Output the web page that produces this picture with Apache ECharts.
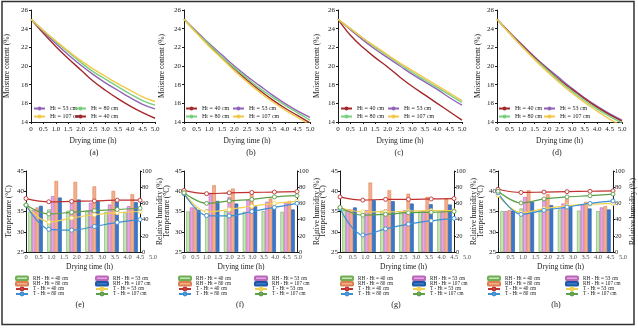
<!DOCTYPE html>
<html>
<head>
<meta charset="utf-8">
<script src="https://cdn.jsdelivr.net/npm/echarts@6/dist/echarts.min.js"></script>
<style>
  html, body { margin: 0; padding: 0; background: #fff; }
  #chart { width: 638px; height: 328px; }
</style>
</head>
<body>
<div id="chart"></div>
<script>
// ---- shared axes ----
const HOURS = [0, 0.5, 1, 1.5, 2, 2.5, 3, 3.5, 4, 4.5, 5];
const X_TICK_LABELS = ['0', '0.5', '1.0', '1.5', '2.0', '2.5', '3.0', '3.5', '4.0', '4.5', '5.0'];
const T_HOURS = [0, 1, 2, 3, 4, 5];
const RH_SLOTS = ['0', '1', '2', '3', '4', '5'];

// ---- moisture content (%) ----
const MC_A_40  = [25.0, 23.5, 22.1, 20.8, 19.6, 18.4, 17.4, 16.5, 15.7, 15.0, 14.4];
const MC_A_53  = [25.0, 23.7, 22.4, 21.2, 20.1, 19.1, 18.2, 17.4, 16.6, 15.9, 15.4];
const MC_A_80  = [25.0, 23.8, 22.6, 21.5, 20.4, 19.4, 18.6, 17.8, 17.0, 16.3, 15.8];
const MC_A_107 = [25.0, 23.8, 22.7, 21.6, 20.6, 19.7, 18.9, 18.1, 17.4, 16.7, 16.2];

const MC_B_40  = [25.0, 23.6, 22.2, 20.9, 19.7, 18.5, 17.4, 16.4, 15.5, 14.7, 13.9];
const MC_B_53  = [25.0, 23.7, 22.4, 21.2, 20.0, 18.9, 17.9, 16.9, 16.0, 15.2, 14.5];
const MC_B_80  = [25.0, 23.6, 22.3, 21.0, 19.8, 18.7, 17.6, 16.7, 15.8, 15.0, 14.2];
const MC_B_107 = [25.0, 23.5, 22.1, 20.8, 19.5, 18.3, 17.2, 16.2, 15.3, 14.5, 13.7];

const MC_C_40  = [25.0, 23.3, 22.0, 20.9, 19.9, 18.8, 17.8, 16.9, 16.0, 15.1, 14.2];
const MC_C_53  = [25.0, 23.9, 22.8, 21.8, 20.9, 20.0, 19.1, 18.3, 17.5, 16.6, 15.8];
const MC_C_80  = [25.0, 24.0, 23.0, 22.0, 21.1, 20.2, 19.3, 18.5, 17.7, 16.9, 16.1];
const MC_C_107 = [25.0, 24.0, 23.0, 22.1, 21.2, 20.3, 19.5, 18.7, 17.9, 17.1, 16.3];

const MC_D_40  = [25.0, 23.6, 22.2, 20.9, 19.7, 18.5, 17.5, 16.5, 15.6, 14.8, 14.1];
const MC_D_53  = [25.0, 23.6, 22.3, 21.0, 19.8, 18.7, 17.6, 16.6, 15.7, 14.9, 14.2];
const MC_D_80  = [25.0, 23.5, 22.1, 20.8, 19.6, 18.4, 17.3, 16.3, 15.4, 14.6, 13.9];
const MC_D_107 = [25.0, 23.5, 22.1, 20.7, 19.4, 18.2, 17.1, 16.1, 15.2, 14.3, 13.6];

// ---- air temperature (°C) ----
const T_E_40  = [38.2, 37.4, 37.5, 37.6, 37.8, 37.8];
const T_E_53  = [36.6, 32.4, 33.4, 34.2, 34.7, 35.0];
const T_E_80  = [36.6, 30.6, 30.4, 31.3, 32.3, 33.0];
const T_E_107 = [36.6, 34.4, 34.8, 35.2, 35.5, 35.8];

const T_F_40  = [40.2, 39.4, 39.6, 39.7, 39.8, 39.9];
const T_F_53  = [39.6, 34.9, 35.5, 36.3, 37.0, 37.5];
const T_F_80  = [39.4, 34.0, 33.9, 35.0, 36.0, 37.0];
const T_F_107 = [39.6, 37.0, 37.6, 38.0, 38.6, 38.9];

const T_G_40  = [38.6, 37.8, 38.0, 38.0, 38.1, 38.2];
const T_G_53  = [36.0, 34.9, 34.9, 35.1, 35.2, 35.2];
const T_G_80  = [35.7, 29.2, 30.7, 31.9, 32.7, 33.3];
const T_G_107 = [36.0, 34.1, 34.3, 34.7, 34.8, 35.0];

const T_H_40  = [40.5, 39.7, 39.8, 39.9, 40.0, 40.1];
const T_H_53  = [39.0, 34.7, 35.7, 36.4, 36.8, 37.0];
const T_H_80  = [39.6, 34.3, 35.3, 36.1, 37.0, 37.6];
const T_H_107 = [40.0, 37.1, 38.1, 38.6, 38.9, 39.3];

// ---- relative humidity (%) ----
const RH_E_40  = [50, 52.5, 51, 51, 49.6, 49.6];
const RH_E_53  = [52, 69, 64, 60.7, 58.6, 56.6];
const RH_E_80  = [55, 87.7, 86.5, 81, 75.4, 71.3];
const RH_E_107 = [57, 67.2, 64.8, 63, 63, 61.5];

const RH_F_40  = [50, 52.5, 50.4, 49.6, 50.4, 49.6];
const RH_F_53  = [55, 73, 68, 64, 62, 60.7];
const RH_F_80  = [55, 82.4, 78.3, 74.2, 66, 63];
const RH_F_107 = [52, 63, 59.8, 56.6, 55.7, 52.5];

const RH_G_40  = [51.6, 51, 51, 50.4, 50, 50];
const RH_G_53  = [52.9, 51.6, 52.5, 51.6, 51, 51];
const RH_G_80  = [52.5, 85.7, 76.2, 72, 68, 66];
const RH_G_107 = [55, 64, 62.7, 59.8, 59, 58.6];

const RH_H_40  = [50.4, 53.7, 52.5, 52.5, 51, 50.4];
const RH_H_53  = [50.4, 68, 64, 59.8, 57.8, 55];
const RH_H_80  = [51.6, 76.2, 71.3, 66, 61.9, 56.6];
const RH_H_107 = [51, 61.9, 57.8, 55.7, 53.7, 52.5];

// ---- styling ----
const FONT = 'Liberation Serif';
const INK = '#1a1a1a';
const MC_COLORS = { 40: '#a3282b', 53: '#9063b8', 80: '#79cf7e', 107: '#f1c84a' };
const RH_STYLE = {
  40:  { fill: '#c8e6b8', edge: '#6fae55' },
  53:  { fill: '#e7a4e6', edge: '#b868b6' },
  80:  { fill: '#f4b08e', edge: '#dd7f4f' },
  107: { fill: '#3a78cf', edge: '#1d58a3' }
};
const T_COLORS = { 40: '#c0302e', 53: '#f2d14e', 80: '#3b8fd2', 107: '#5d9e48' };
const HT = [40, 53, 80, 107];
const ht = h => 'Ht = ' + h + ' cm';

const grids = [], xAxes = [], yAxes = [], series = [], legends = [];

function tickLabel(v) {
  return X_TICK_LABELS[Math.round(v * 2)];
}

function axisLineStyle() {
  return { show: true, lineStyle: { color: INK, width: 1 } };
}

// ---- moisture-content panels (a)-(d) ----
function moisturePanel(p) {
  const g = grids.length;
  grids.push({ left: p.left, top: 10, width: p.width, height: 112 });
  const xi = xAxes.length, yi = yAxes.length;
  xAxes.push({
    gridIndex: g, type: 'value', min: 0, max: 5, interval: 0.5,
    axisLine: axisLineStyle(),
    axisTick: { show: true, length: 2, lineStyle: { color: INK } },
    splitLine: { show: false },
    axisLabel: { formatter: tickLabel, fontSize: 7, color: INK, fontFamily: FONT, margin: 4, showMinLabel: true, showMaxLabel: true, hideOverlap: false },
    name: 'Drying time (h)', nameLocation: 'middle', nameGap: 15,
    nameTextStyle: { fontSize: 7.5, color: INK, fontFamily: FONT }
  });
  yAxes.push({
    gridIndex: g, type: 'value', min: 14, max: 26, interval: 2,
    axisLine: axisLineStyle(),
    axisTick: { show: true, length: 2, lineStyle: { color: INK } },
    splitLine: { show: false },
    axisLabel: { fontSize: 7, color: INK, fontFamily: FONT, margin: 3 },
    name: 'Moisture content (%)', nameLocation: 'middle', nameGap: p.yGap,
    nameTextStyle: { fontSize: 7.5, color: INK, fontFamily: FONT }
  });
  HT.forEach(h => {
    series.push({
      type: 'line', name: ht(h), xAxisIndex: xi, yAxisIndex: yi,
      data: HOURS.map((t, k) => [t, p.values[h][k]]),
      smooth: 0.4, symbol: 'none', clip: true, z: p.z[h],
      lineStyle: { color: MC_COLORS[h], width: 1.4 },
      itemStyle: { color: MC_COLORS[h] }
    });
  });
  p.legend.forEach(col => {
    legends.push({
      left: col.left, top: 105.5, orient: 'vertical', padding: 0,
      itemWidth: 11, itemHeight: 5, itemGap: 2,
      data: col.items.map(ht),
      textStyle: { fontSize: 6, color: INK, fontFamily: FONT, lineHeight: 6 }
    });
  });
}

// ---- temperature / humidity panels (e)-(h) ----
function climatePanel(p) {
  const g = grids.length;
  grids.push({ left: p.left, top: 171, width: p.width, height: 81 });
  const gl = grids.length;
  grids.push({ left: p.left, top: 171, width: p.labelWidth, height: 81 });

  const xVal = xAxes.length;
  xAxes.push({
    gridIndex: g, type: 'value', min: 0, max: 5, interval: 0.5,
    axisLine: axisLineStyle(), axisTick: { show: false },
    splitLine: { show: false }, axisLabel: { show: false }
  });
  const xCat = xAxes.length;
  xAxes.push({
    gridIndex: g, type: 'category', data: RH_SLOTS, show: false, boundaryGap: true
  });
  // drying-time tick row, spread a little wider than the plot itself
  const xLab = xAxes.length;
  xAxes.push({
    gridIndex: gl, type: 'value', min: 0, max: 5,
    axisLine: { show: false }, axisTick: { show: false }, splitLine: { show: false },
    axisLabel: { show: false },
    name: 'Drying time (h)', nameLocation: 'middle', nameGap: 11,
    nameTextStyle: { fontSize: 7.5, color: INK, fontFamily: FONT }
  });

  const yT = yAxes.length;
  yAxes.push({
    gridIndex: g, type: 'value', min: 25, max: 45, interval: 5, position: 'left',
    axisLine: axisLineStyle(),
    axisTick: { show: true, length: 2, lineStyle: { color: INK } },
    splitLine: { show: false },
    axisLabel: { fontSize: 7, color: INK, fontFamily: FONT, margin: 2 },
    name: 'Temperature (°C)', nameLocation: 'middle', nameGap: p.leftGap,
    nameTextStyle: { fontSize: 7.5, color: INK, fontFamily: FONT }
  });
  const yRH = yAxes.length;
  yAxes.push({
    gridIndex: g, type: 'value', min: 0, max: 100, interval: 20, position: 'right',
    axisLine: axisLineStyle(),
    axisTick: { show: true, length: 2, lineStyle: { color: INK } },
    splitLine: { show: false },
    axisLabel: { fontSize: 6.5, color: INK, fontFamily: FONT, margin: 2 },
    name: 'Relative humidity (%)', nameLocation: 'middle', nameGap: p.rightGap,
    nameTextStyle: { fontSize: 7.5, color: INK, fontFamily: FONT }
  });
  const yLab = yAxes.length;
  yAxes.push({ gridIndex: gl, type: 'value', min: 0, max: 1, show: false });

  // tick labels carried by an invisible point series on the tick row
  series.push({
    type: 'scatter', xAxisIndex: xLab, yAxisIndex: yLab, silent: true, clip: false,
    symbolSize: 0, data: HOURS.map(t => [t, 0]),
    label: {
      show: true, position: 'bottom', distance: 2,
      formatter: prm => X_TICK_LABELS[prm.dataIndex],
      fontSize: 6.5, color: INK, fontFamily: FONT
    }
  });

  HT.forEach(h => {
    series.push({
      type: 'bar', name: 'RH - ' + ht(h), xAxisIndex: xCat, yAxisIndex: yRH,
      data: p.rh[h], barGap: '0%', barCategoryGap: '24%', z: 2,
      itemStyle: { color: RH_STYLE[h].fill, borderColor: RH_STYLE[h].edge, borderWidth: 0.6 }
    });
  });
  HT.forEach(h => {
    series.push({
      type: 'line', name: 'T - ' + ht(h), xAxisIndex: xVal, yAxisIndex: yT,
      data: T_HOURS.map((t, k) => [t, p.t[h][k]]),
      smooth: 0.35, symbol: 'circle', symbolSize: 4, z: 3,
      lineStyle: { color: T_COLORS[h], width: 1.2 },
      itemStyle: { color: '#fff', borderColor: T_COLORS[h], borderWidth: 0.9 }
    });
  });

  const cols = [
    ['RH - ' + ht(40), 'RH - ' + ht(80), 'T - ' + ht(40), 'T - ' + ht(80)],
    ['RH - ' + ht(53), 'RH - ' + ht(107), 'T - ' + ht(53), 'T - ' + ht(107)]
  ];
  cols.forEach((items, c) => {
    legends.push({
      left: p.legendLeft[c], top: 275.5, orient: 'vertical', padding: 0,
      itemWidth: 12, itemHeight: 3.5, itemGap: 0,
      data: items,
      textStyle: { fontSize: 5.2, color: INK, fontFamily: FONT, lineHeight: 4.7 }
    });
  });
}

moisturePanel({
  left: 31, width: 124, yGap: 20,
  values: { 40: MC_A_40, 53: MC_A_53, 80: MC_A_80, 107: MC_A_107 },
  z: { 40: 2, 53: 3, 80: 4, 107: 5 },
  legend: [{ left: 33, items: [53, 107] }, { left: 74, items: [80, 40] }]
});
moisturePanel({
  left: 184, width: 126, yGap: 18,
  values: { 40: MC_B_40, 53: MC_B_53, 80: MC_B_80, 107: MC_B_107 },
  z: { 40: 3, 53: 2, 80: 4, 107: 5 },
  legend: [{ left: 185, items: [40, 80] }, { left: 232, items: [53, 107] }]
});
moisturePanel({
  left: 338, width: 124, yGap: 17,
  values: { 40: MC_C_40, 53: MC_C_53, 80: MC_C_80, 107: MC_C_107 },
  z: { 40: 2, 53: 3, 80: 4, 107: 5 },
  legend: [{ left: 340, items: [40, 80] }, { left: 387, items: [53, 107] }]
});
moisturePanel({
  left: 497, width: 125, yGap: 15,
  values: { 40: MC_D_40, 53: MC_D_53, 80: MC_D_80, 107: MC_D_107 },
  z: { 40: 3, 53: 2, 80: 4, 107: 5 },
  legend: [{ left: 498, items: [40, 80] }, { left: 543, items: [53, 107] }]
});

climatePanel({
  left: 26, width: 114, labelWidth: 127, leftGap: 11, rightGap: 15,
  t:  { 40: T_E_40, 53: T_E_53, 80: T_E_80, 107: T_E_107 },
  rh: { 40: RH_E_40, 53: RH_E_53, 80: RH_E_80, 107: RH_E_107 },
  legendLeft: [15, 95]
});
climatePanel({
  left: 184, width: 113, labelWidth: 114, leftGap: 9, rightGap: 12,
  t:  { 40: T_F_40, 53: T_F_53, 80: T_F_80, 107: T_F_107 },
  rh: { 40: RH_F_40, 53: RH_F_53, 80: RH_F_80, 107: RH_F_107 },
  legendLeft: [178, 254]
});
climatePanel({
  left: 340, width: 114, labelWidth: 127, leftGap: 8, rightGap: 16,
  t:  { 40: T_G_40, 53: T_G_53, 80: T_G_80, 107: T_G_107 },
  rh: { 40: RH_G_40, 53: RH_G_53, 80: RH_G_80, 107: RH_G_107 },
  legendLeft: [340, 412]
});
climatePanel({
  left: 498, width: 115, labelWidth: 125, leftGap: 9, rightGap: 11,
  t:  { 40: T_H_40, 53: T_H_53, 80: T_H_80, 107: T_H_107 },
  rh: { 40: RH_H_40, 53: RH_H_53, 80: RH_H_80, 107: RH_H_107 },
  legendLeft: [487, 565]
});

// panel tags and outer frame
const TAGS = [
  ['(a)', 94, 153], ['(b)', 251, 153], ['(c)', 399, 153], ['(d)', 557, 153],
  ['(e)', 80, 305], ['(f)', 240, 305], ['(g)', 396, 305], ['(h)', 556, 305]
];
const graphic = [{
  type: 'rect', shape: { x: 2, y: 1.5, width: 632, height: 323 },
  style: { fill: null, stroke: '#333', lineWidth: 1.5 }, silent: true
}].concat(TAGS.map(([txt, x, y]) => ({
  type: 'text', x: x, y: y,
  style: { text: txt, fontSize: 8, fontFamily: FONT, fill: INK, align: 'center', verticalAlign: 'middle' }
})));

const chart = echarts.init(document.getElementById('chart'), null, { renderer: 'canvas' });
chart.setOption({
  animation: false,
  backgroundColor: '#fff',
  textStyle: { fontFamily: FONT },
  grid: grids, xAxis: xAxes, yAxis: yAxes,
  series: series, legend: legends, graphic: graphic
});
</script>
</body>
</html>
